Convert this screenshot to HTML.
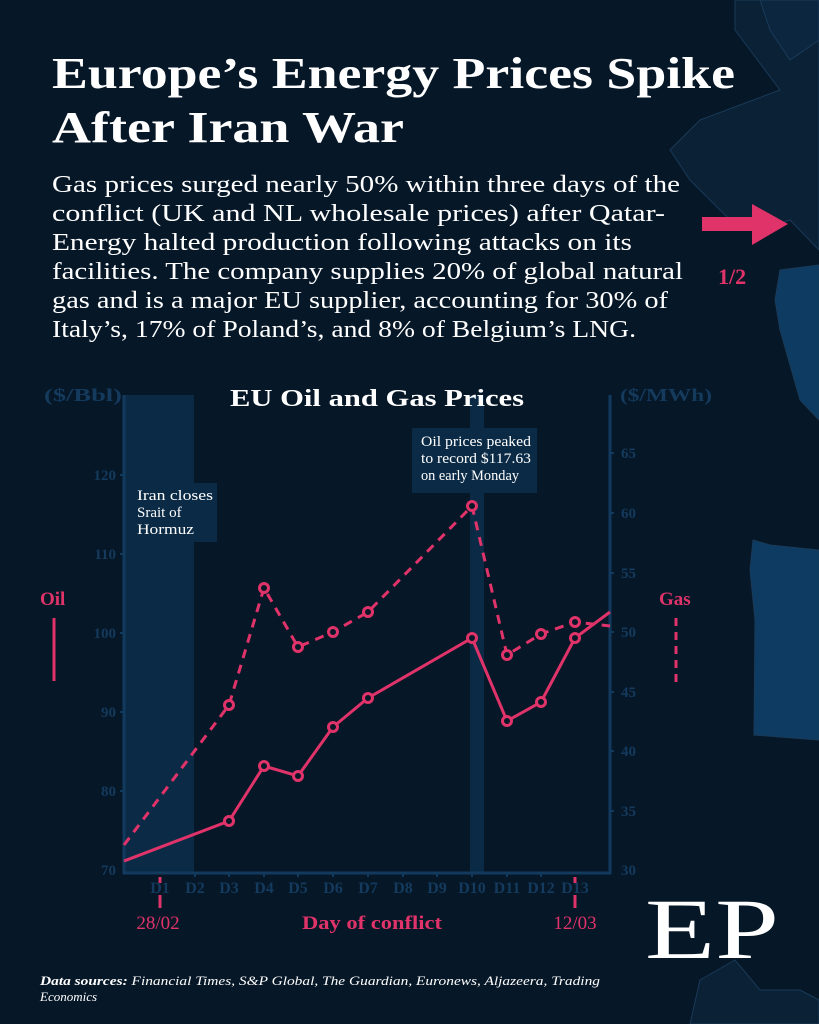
<!DOCTYPE html>
<html><head><meta charset="utf-8"><style>
body{margin:0;width:819px;height:1024px;background:#061727;overflow:hidden;font-family:"Liberation Serif",serif;}
svg{position:absolute;left:0;top:0}
</style></head><body>
<svg width="819" height="1024" viewBox="0 0 819 1024" font-family="Liberation Serif, serif">
<rect width="819" height="1024" fill="#061727"/>
<g stroke="#1a3a58" stroke-width="1">
<path d="M735 0 L819 0 L819 250 L790 220 L760 230 L730 220 L690 180 L670 150 L700 120 L740 105 L780 90 L735 30 Z" fill="#0a2136"/>
<path d="M760 0 L819 0 L819 40 L790 60 L770 30 Z" fill="#0c2640"/>
<path d="M780 270 L819 265 L819 420 L800 400 L780 330 L775 300 Z" fill="#0e3b62"/>
<path d="M753 540 L770 545 L819 550 L819 740 L754 735 L755 620 L750 570 Z" fill="#0e3b62"/>
<path d="M700 980 L735 960 L760 990 L800 990 L819 1000 L819 1024 L690 1024 Z" fill="#0a2136"/>
</g>
<g font-size="44" font-weight="bold" fill="#fff" lengthAdjust="spacingAndGlyphs">
<text x="52" y="88" textLength="683" lengthAdjust="spacingAndGlyphs">Europe’s Energy Prices Spike</text>
<text x="52" y="142" textLength="352" lengthAdjust="spacingAndGlyphs">After Iran War</text>
</g>
<g font-size="24" fill="#fff">
<text x="52" y="192" textLength="628" lengthAdjust="spacingAndGlyphs">Gas prices surged nearly 50% within three days of the</text>
<text x="52" y="221" textLength="613" lengthAdjust="spacingAndGlyphs">conflict (UK and NL wholesale prices) after Qatar-</text>
<text x="52" y="250" textLength="580" lengthAdjust="spacingAndGlyphs">Energy halted production following attacks on its</text>
<text x="52" y="279" textLength="631" lengthAdjust="spacingAndGlyphs">facilities. The company supplies 20% of global natural</text>
<text x="52" y="308" textLength="616" lengthAdjust="spacingAndGlyphs">gas and is a major EU supplier, accounting for 30% of</text>
<text x="52" y="337" textLength="584" lengthAdjust="spacingAndGlyphs">Italy’s, 17% of Poland’s, and 8% of Belgium’s LNG.</text>
</g>
<path d="M702 217 L752 217 L752 204 L788 224 L752 245 L752 231 L702 231 Z" fill="#e0336a"/>
<text x="718" y="284" font-size="22" font-weight="bold" fill="#e0336a">1/2</text>
<rect x="124" y="395" width="70" height="478" fill="#0b2a45"/>
<rect x="470" y="395" width="14" height="478" fill="#0b2a45"/>
<rect x="130" y="483" width="87" height="59" fill="#0b2a45"/>
<rect x="412" y="428" width="125" height="65" fill="#0b2a45"/>
<g font-size="15" fill="#fff">
<text x="137" y="500" textLength="76" lengthAdjust="spacingAndGlyphs">Iran closes</text><text x="137" y="517">Srait of</text><text x="137" y="534" textLength="57" lengthAdjust="spacingAndGlyphs">Hormuz</text>
<text x="421" y="446" textLength="110" lengthAdjust="spacingAndGlyphs">Oil prices peaked</text><text x="421" y="463" textLength="110" lengthAdjust="spacingAndGlyphs">to record $117.63</text><text x="421" y="480" textLength="98" lengthAdjust="spacingAndGlyphs">on early Monday</text>
</g>
<text x="230" y="406" font-size="24" font-weight="bold" fill="#fff" textLength="294" lengthAdjust="spacingAndGlyphs">EU Oil and Gas Prices</text>
<g stroke="#123a5e" stroke-width="3" fill="none">
<path d="M124 395 L124 873 L610 873 L610 395"/>
</g>
<g stroke="#123a5e" stroke-width="2">
<path d="M120 475 h4 M120 554 h4 M120 633 h4 M120 712 h4 M120 791 h4"/>
<path d="M610 453 h4 M610 513 h4 M610 573 h4 M610 632 h4 M610 692 h4 M610 751 h4 M610 811 h4"/>
<path d="M195 873 v4 M229 873 v4 M264 873 v4 M298 873 v4 M333 873 v4 M368 873 v4 M403 873 v4 M437 873 v4 M472 873 v4 M507 873 v4 M541 873 v4"/>
</g>
<g font-size="15" font-weight="bold" fill="#143a5d">
<text x="44" y="401" font-size="18" textLength="78" lengthAdjust="spacingAndGlyphs">($/Bbl)</text>
<text x="620" y="401" font-size="18" textLength="92" lengthAdjust="spacingAndGlyphs">($/MWh)</text>
<g text-anchor="end"><text x="116" y="480">120</text><text x="116" y="559">110</text><text x="116" y="638">100</text><text x="116" y="717">90</text><text x="116" y="796">80</text><text x="116" y="875">70</text></g>
<text x="621" y="458">65</text><text x="621" y="518">60</text><text x="621" y="578">55</text><text x="621" y="637">50</text><text x="621" y="697">45</text><text x="621" y="756">40</text><text x="621" y="816">35</text><text x="621" y="875">30</text>
<g text-anchor="middle" font-size="16"><text x="160" y="893">D1</text><text x="195" y="893">D2</text><text x="229" y="893">D3</text><text x="264" y="893">D4</text><text x="298" y="893">D5</text><text x="333" y="893">D6</text><text x="368" y="893">D7</text><text x="403" y="893">D8</text><text x="437" y="893">D9</text><text x="472" y="893">D10</text><text x="507" y="893">D11</text><text x="541" y="893">D12</text><text x="575" y="893">D13</text></g>
</g>
<g stroke="#e0336a" stroke-width="3" fill="none">
<polyline points="124,861 229,821 264,766 298,776 333,727 368,698 472,638 507,721 541,702 575,638 610,612"/>
<polyline stroke-dasharray="9,7" points="124,845 229,705 264,588 298,647 333,632 368,612 472,506 507,655 541,634 575,622 610,626"/>
</g>
<g stroke="#e0336a" stroke-width="3" fill="#061727">
<circle cx="229" cy="821" r="4.5"/><circle cx="264" cy="766" r="4.5"/><circle cx="298" cy="776" r="4.5"/><circle cx="333" cy="727" r="4.5"/><circle cx="368" cy="698" r="4.5"/><circle cx="472" cy="638" r="4.5"/><circle cx="507" cy="721" r="4.5"/><circle cx="541" cy="702" r="4.5"/><circle cx="575" cy="638" r="4.5"/>
<circle cx="229" cy="705" r="4.5"/><circle cx="264" cy="588" r="4.5"/><circle cx="298" cy="647" r="4.5"/><circle cx="333" cy="632" r="4.5"/><circle cx="368" cy="612" r="4.5"/><circle cx="472" cy="506" r="4.5"/><circle cx="507" cy="655" r="4.5"/><circle cx="541" cy="634" r="4.5"/><circle cx="575" cy="622" r="4.5"/>
</g>
<text x="40" y="605" font-size="19" font-weight="bold" fill="#e0336a">Oil</text>
<line x1="54" y1="618" x2="54" y2="681" stroke="#e0336a" stroke-width="3"/>
<text x="659" y="605" font-size="19" font-weight="bold" fill="#e0336a">Gas</text>
<line x1="676" y1="618" x2="676" y2="686" stroke="#e0336a" stroke-width="3" stroke-dasharray="8,6"/>
<g stroke="#e0336a" stroke-width="3"><path d="M160 877 v6 M160 895 v13 M575 877 v6 M575 895 v13"/></g>
<g fill="#e0336a" font-size="19"><text x="158" y="929" text-anchor="middle">28/02</text><text x="575" y="929" text-anchor="middle">12/03</text>
<text x="302" y="929" font-weight="bold" font-size="19" textLength="140" lengthAdjust="spacingAndGlyphs">Day of conflict</text></g>
<text x="645" y="958" font-size="86" fill="#fff" textLength="134" lengthAdjust="spacingAndGlyphs">EP</text>
<g font-size="13" fill="#fff" font-style="italic">
<text x="40" y="985" textLength="560" lengthAdjust="spacingAndGlyphs"><tspan font-weight="bold">Data sources:</tspan> Financial Times, S&amp;P Global, The Guardian, Euronews, Aljazeera, Trading</text>
<text x="40" y="1001">Economics</text>
</g>
</svg>
</body></html>
